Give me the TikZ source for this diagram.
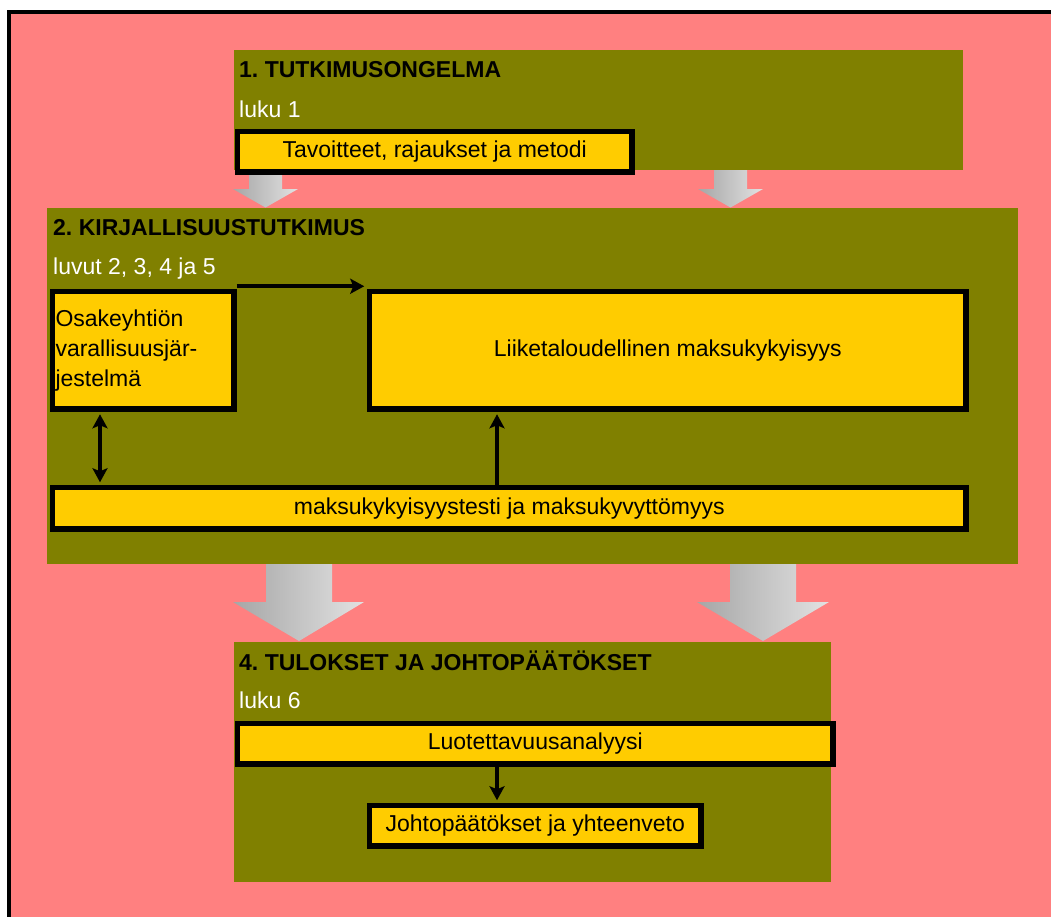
\documentclass[tikz,border=0pt]{standalone}
\usepackage{fontspec}
\setmainfont{Liberation Sans}
\usetikzlibrary{arrows.meta}
\definecolor{bgpink}{HTML}{FF8080}
\definecolor{olivebox}{HTML}{808000}
\definecolor{ybox}{HTML}{FFCC00}
\definecolor{gdark}{HTML}{A6A6A6}
\definecolor{glight}{HTML}{E2E2E2}
\tikzset{tipS/.tip={Stealth[length=14pt,width=15pt,inset=3pt]}}
\frenchspacing
\begin{document}
\frenchspacing
\begin{tikzpicture}[x=1pt,y=-1pt,
 panel/.style={fill=olivebox, draw=none, inner sep=0pt, anchor=north west},
 ybx/.style={fill=ybox, draw=black, line width=5.5pt, inner sep=0pt, anchor=north west,
   font=\fontsize{23}{30}\selectfont, align=center},
 ttl/.style={anchor=base west, inner sep=0pt, font=\fontsize{23}{28}\selectfont\bfseries, text=black},
 sub/.style={anchor=base west, inner sep=0pt, font=\fontsize{23}{28}\selectfont, text=white},
 conn/.style={line width=4pt, -tipS, shorten >=2.5pt},
 bigarrow/.style={left color=gdark, right color=glight, draw=none},
]
\useasboundingbox (0,0) rectangle (1051,916);
\clip (0,0) rectangle (1051,916);
\fill[white] (0,0) rectangle (1051,916);
\draw[fill=bgpink, line width=4pt] (9,12) rectangle (1080,950);

% panels
\node[panel, minimum width=729pt, minimum height=120pt] (p1) at (234,50) {};
\node[panel, minimum width=971pt, minimum height=356pt] (p2) at (47,208) {};
\node[panel, minimum width=597pt, minimum height=240pt] (p4) at (234,642) {};

% big gray arrows
\shade[bigarrow] (249,170) -- (282,170) -- (282,189) -- (298,189) -- (265.5,207.5) -- (233,189) -- (249,189) -- cycle;
\shade[bigarrow] (714,170) -- (747,170) -- (747,189) -- (763,189) -- (730.5,207.5) -- (698,189) -- (714,189) -- cycle;
\shade[bigarrow] (266,564) -- (332,564) -- (332,602) -- (364,602) -- (299,641) -- (233,602) -- (266,602) -- cycle;
\shade[bigarrow] (730,564) -- (796,564) -- (796,602) -- (829,602) -- (763,641) -- (697,602) -- (730,602) -- cycle;

% titles
\node[ttl] (t1) at (239,77) {1. TUTKIMUSONGELMA};
\node[sub] (s1) at (239,117) {luku 1};
\node[ttl] (t2) at (53,235) {2. KIRJALLISUUSTUTKIMUS};
\node[sub] (s2) at (53,274) {luvut 2, 3, 4 ja 5};
\node[ttl] (t4) at (239,670) {4. TULOKSET JA JOHTOPÄÄTÖKSET};
\node[sub] (s4) at (239,708) {luku 6};

% yellow boxes
\node[ybx, minimum width=394.5pt, minimum height=40.5pt] (tav) at (234.75,128.75) {Tavoitteet, rajaukset ja metodi};
\node[ybx, minimum width=181.5pt, minimum height=117.5pt, text width=175.5pt, align=left, inner xsep=3pt] (osa) at (49.75,288.75) {Osakeyhtiön\\varallisuusjär-\\jestelmä};
\node[ybx, minimum width=596.5pt, minimum height=117.5pt] (lii) at (366.75,288.75) {Liiketaloudellinen maksukykyisyys};
\node[ybx, minimum width=913.5pt, minimum height=41.5pt] (mak) at (49.75,484.75) {maksukykyisyystesti ja maksukyvyttömyys};
\node[ybx, minimum width=595.5pt, minimum height=40.5pt] (luo) at (234.75,720.75) {Luotettavuusanalyysi};
\node[ybx, minimum width=331.5pt, minimum height=40.5pt] (joh) at (366.75,802.75) {Johtopäätökset ja yhteenveto};

% connectors
\draw[conn] ([yshift=2.5pt]osa.north east) -- ([yshift=2.5pt]lii.north west);
\coordinate (dx) at (100,0);
\draw[conn, tipS-tipS, shorten <=2.5pt] (dx |- osa.south) -- (dx |- mak.north);
\coordinate (ux) at (497,0);
\draw[conn] (ux |- mak.north) -- (ux |- lii.south);
\draw[conn] (ux |- luo.south) -- (ux |- joh.north);
\end{tikzpicture}
\end{document}
